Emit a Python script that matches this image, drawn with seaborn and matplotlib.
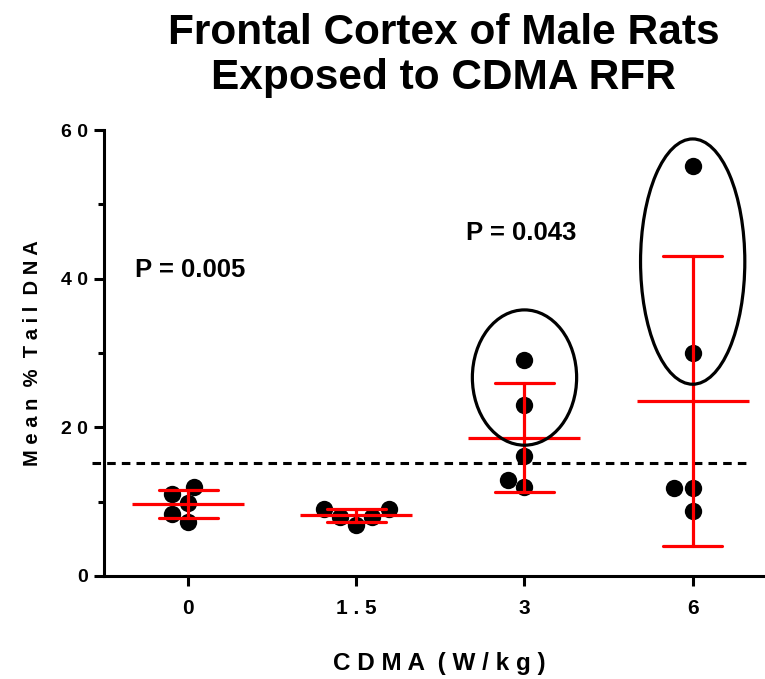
import numpy as np
import pandas as pd
import matplotlib
matplotlib.use('Agg')
import matplotlib.pyplot as plt
from matplotlib.patches import Ellipse
from matplotlib.ticker import MultipleLocator
import seaborn as sns

# data (% tail DNA per animal)
doses = ['0', '1.5', '3', '6']
tick_labels = ['0', '1 . 5', '3', '6']
tail_0 = [12.0, 11.0, 9.8, 8.4, 7.2]
tail_15 = [9.0, 8.0, 6.9, 8.0, 9.0]
tail_3 = [29.1, 23.0, 16.1, 12.9, 12.0]
tail_6 = [55.1, 30.0, 11.9, 11.9, 8.8]

threshold = 15.2
p_labels = ['P = 0.005', 'P = 0.043']
p_pos = [(-0.315, 41.2), (1.65, 46.1)]
# circled groups: (category index, centre y, height)
circles = [(2, 26.7, 18.2), (3, 42.3, 33.0)]

df = pd.DataFrame({
    'dose': ['0'] * 5 + ['1.5'] * 5 + ['3'] * 5 + ['6'] * 5,
    'tail': tail_0 + tail_15 + tail_3 + tail_6,
})

sns.set_theme(style='ticks')
plt.rcParams['font.family'] = ['Liberation Sans', 'DejaVu Sans']
plt.rcParams['font.weight'] = 'bold'
for key in ['text.color', 'axes.labelcolor', 'xtick.color', 'ytick.color',
            'axes.edgecolor']:
    plt.rcParams[key] = 'black'

fig = plt.figure(figsize=(7.65, 6.79), dpi=100)
ax = fig.add_axes([0.136, 0.1517, 0.864, 0.6568])

sns.swarmplot(data=df, x='dose', y='tail', order=doses, color='black',
              size=12.5, ax=ax, zorder=3)
sns.pointplot(data=df, x='dose', y='tail', order=doses, color='red',
              errorbar='sd', capsize=0.35, markers='_', markersize=81,
              markeredgewidth=2.3, linestyle='none',
              err_kws={'linewidth': 2.3}, ax=ax, zorder=4)

ax.plot([-0.57, 3.35], [threshold, threshold], ls='--', color='black',
        lw=2.2, dashes=(2.8, 2.0), clip_on=False, zorder=2)

for idx, cy, h in circles:
    ax.add_patch(Ellipse((idx, cy), 0.62, h, fill=False, ec='black', lw=2.3, zorder=5))

for txt, (x, y) in zip(p_labels, p_pos):
    ax.text(x, y, txt, fontsize=18.5, fontweight='bold', ha='left', va='center')

ax.set_xlim(-0.5, 3.43)
ax.set_ylim(0, 60)
ax.set_yticks([0, 20, 40, 60])
ax.set_yticklabels(['0', '2 0', '4 0', '6 0'])
ax.yaxis.set_minor_locator(MultipleLocator(10))
ax.set_xticks(range(len(doses)))
ax.set_xticklabels(tick_labels)

sns.despine(ax=ax)
for s in ['left', 'bottom']:
    ax.spines[s].set_linewidth(2.2)
ax.tick_params(axis='y', which='major', length=7.5, width=2.2, pad=4,
               labelsize=14)
ax.tick_params(axis='y', which='minor', length=4.5, width=2.2)
ax.tick_params(axis='x', which='major', length=7.5, width=2.2, pad=9,
               labelsize=15)
for lab in ax.get_xticklabels() + ax.get_yticklabels():
    lab.set_fontweight('bold')

ax.set_xlabel('C D M A  ( W / k g )', fontsize=17.5, fontweight='bold')
ax.set_ylabel('M e a n  %  T a i l  D N A', fontsize=14.5, fontweight='bold')
ax.xaxis.set_label_coords(0.508, -0.17)
ax.yaxis.set_label_coords(-0.094, 0.5)

fig.text(0.58, 0.981, 'Frontal Cortex of Male Rats\nExposed to CDMA RFR',
         ha='center', va='top', fontsize=30.5, fontweight='bold', linespacing=1.16)

fig.savefig('out.png', dpi=100)
